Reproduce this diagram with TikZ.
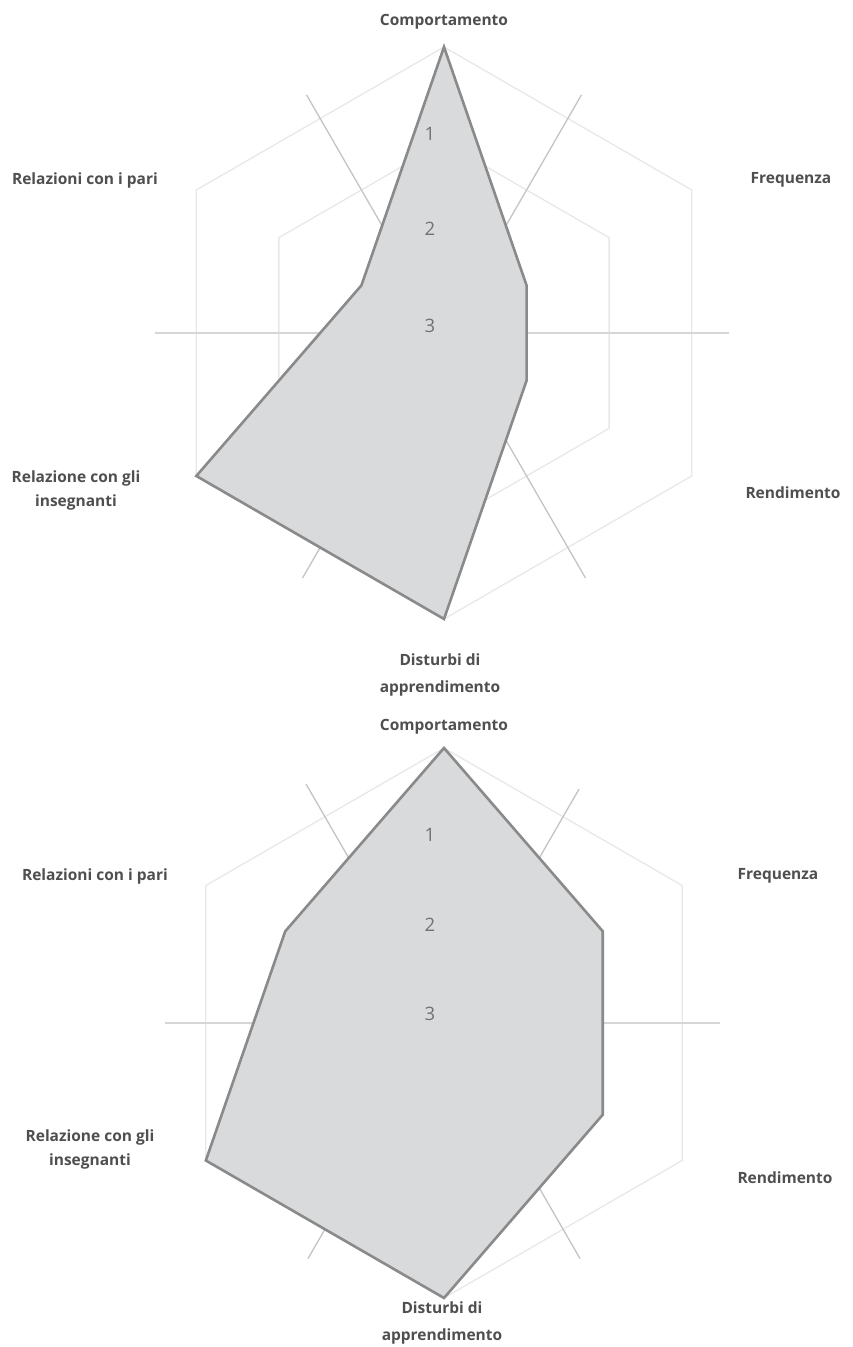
\documentclass[tikz,border=0pt]{standalone}
\usepackage{fontspec}
\setmainfont{Open Sans}
\definecolor{lbl}{HTML}{4F4F4F}
\definecolor{gridc}{HTML}{E8E8E8}
\definecolor{spokec}{HTML}{C4C4C4}
\definecolor{hspokec}{HTML}{D6D6D6}
\definecolor{areafill}{HTML}{D9DADB}
\definecolor{areaedge}{HTML}{8A8A8A}
\definecolor{tickc}{HTML}{727272}
\begin{document}
\begin{tikzpicture}[x=1pt,y=1pt,
  ring/.style={draw=gridc, line width=1.3},
  spoke/.style={draw=spokec, line width=1.3},
  hspoke/.style={draw=hspokec, line width=1.3},
  area/.style={fill=areafill, draw=areaedge, line width=2.6, line join=miter},
  axlabel/.style={font=\fontsize{15.5}{27}\selectfont\bfseries, text=lbl, align=center, inner sep=0},
  inslabel/.style={axlabel, font=\fontsize{15.5}{24}\selectfont\bfseries},
  ticklbl/.style={font=\fontsize{18.5}{20}\selectfont, text=tickc, inner sep=0}]
\fill[white] (0,0) rectangle (852,1347);
\useasboundingbox (0,0) rectangle (852,1347);

% ---------------- top chart ----------------
\begin{scope}[shift={(444,1014)}]
  \def\R{286}
  \foreach \f in {1,0.6667,0.3333}{
    \draw[ring] (90:\f*\R) -- (30:\f*\R) -- (-30:\f*\R) -- (-90:\f*\R) -- (210:\f*\R) -- (150:\f*\R) -- cycle;
  }
  \coordinate (ta0) at (0,0);
  \coordinate (ts0) at (0:285);
  \coordinate (ts60) at (60:275);
  \coordinate (ts120) at (120:275);
  \coordinate (ts180) at (180:289);
  \coordinate (ts240) at (240:283);
  \coordinate (ts300) at (300:283);
  \draw[hspoke] (ts180) -- (ts0);
  \foreach \a in {60,120,240,300}{ \draw[spoke] (ta0) -- (ts\a); }
  \coordinate (tv1) at (90:\R);
  \coordinate (tv2) at (30:0.3333*\R);
  \coordinate (tv3) at (-30:0.3333*\R);
  \coordinate (tv4) at (-90:\R);
  \coordinate (tv5) at (210:\R);
  \coordinate (tv6) at (150:0.3333*\R);
  \draw[area] (tv1) -- (tv2) -- (tv3) -- (tv4) -- (tv5) -- (tv6) -- cycle;
  \node[ticklbl] (tt1) at (-14,199) {1};
  \node[ticklbl] (tt2) at (-14,104) {2};
  \node[ticklbl] (tt3) at (-14,7) {3};
\end{scope}
\node[axlabel] (tcomp) at (444,1325) {Comportamento};
\node[axlabel] (tfreq) at (791,1167) {Frequenza};
\node[axlabel] (trend) at (793,854) {Rendimento};
\node[axlabel] (tdist) at (440,672) {Disturbi di\\apprendimento};
\node[inslabel] (tins) at (76,857) {Relazione con gli\\insegnanti};
\node[axlabel] (tpari) at (85,1167) {Relazioni con i pari};

% ---------------- bottom chart ----------------
\begin{scope}[shift={(444,324)}]
  \def\R{275}
  \foreach \f in {1,0.6667,0.3333}{
    \draw[ring] (90:\f*\R) -- (30:\f*\R) -- (-30:\f*\R) -- (-90:\f*\R) -- (210:\f*\R) -- (150:\f*\R) -- cycle;
  }
  \coordinate (ba0) at (0,0);
  \coordinate (bs0) at (0:276);
  \coordinate (bs60) at (60:270);
  \coordinate (bs120) at (120:276);
  \coordinate (bs180) at (180:279);
  \coordinate (bs240) at (240:272);
  \coordinate (bs300) at (300:272);
  \draw[hspoke] (bs180) -- (bs0);
  \foreach \a in {60,120,240,300}{ \draw[spoke] (ba0) -- (bs\a); }
  \coordinate (bv1) at (90:\R);
  \coordinate (bv2) at (30:0.6667*\R);
  \coordinate (bv3) at (-30:0.6667*\R);
  \coordinate (bv4) at (-90:\R);
  \coordinate (bv5) at (210:\R);
  \coordinate (bv6) at (150:0.6667*\R);
  \draw[area] (bv1) -- (bv2) -- (bv3) -- (bv4) -- (bv5) -- (bv6) -- cycle;
  \node[ticklbl] (bt1) at (-14,188) {1};
  \node[ticklbl] (bt2) at (-14,98) {2};
  \node[ticklbl] (bt3) at (-14,9) {3};
\end{scope}
\node[axlabel] (bcomp) at (444,620) {Comportamento};
\node[axlabel] (bfreq) at (778,471) {Frequenza};
\node[axlabel] (brend) at (785,169) {Rendimento};
\node[axlabel] (bdist) at (442,24) {Disturbi di\\apprendimento};
\node[inslabel] (bins) at (90,198) {Relazione con gli\\insegnanti};
\node[axlabel] (bpari) at (95,471) {Relazioni con i pari};
\end{tikzpicture}
\end{document}
